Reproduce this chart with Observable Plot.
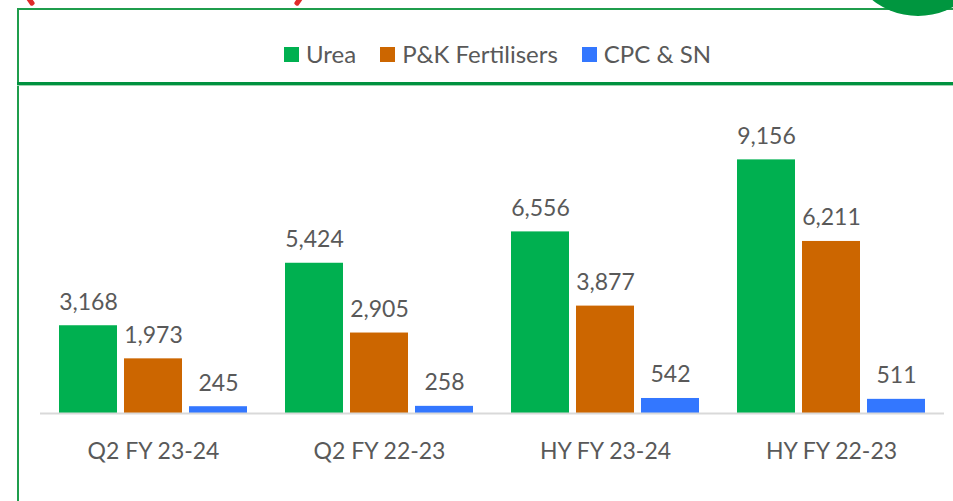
<!DOCTYPE html>
<html>
<head>
<meta charset="utf-8">
<script src="https://cdn.jsdelivr.net/npm/d3@7"></script>
<script src="https://cdn.jsdelivr.net/npm/@observablehq/plot@0.6"></script>
<style>
  html, body { margin: 0; padding: 0; background: #fff; }
  body { width: 953px; height: 501px; position: relative; overflow: hidden; font-family: Lato, "Open Sans", sans-serif; }
  .deco { position: absolute; }
  #legend { position: absolute; top: 39px; left: 0; width: 995px; display: flex; justify-content: center; gap: 24px; font-size: 24px; color: #595959; line-height: 30px; }
  #legend .item { display: flex; align-items: center; gap: 7px; }
  #legend .sw { width: 15px; height: 15px; display: inline-block; }
  #chart { position: absolute; left: 0; top: 0; }
</style>
</head>
<body>
<div class="deco" style="left:17px; top:8px; width:936px; height:2px; background:#1f9d4c;"></div>
<div class="deco" style="left:17px; top:8px; width:2px; height:493px; background:#1f9d4c;"></div>
<div class="deco" style="left:17px; top:82px; width:936px; height:3px; background:#00923f;"></div>
<div class="deco" style="left:17px; top:85px; width:936px; height:1px; background:#9fd4b0;"></div>
<div class="deco" style="left:845px; top:-130px; width:146px; height:146px; border-radius:50%; background:#00963f;"></div>
<div class="deco" style="left:28px; top:-4px; width:5px; height:10px; border-radius:2px; background:#e02a2a; transform:rotate(-35deg);"></div>
<div class="deco" style="left:296px; top:-4px; width:5px; height:10px; border-radius:2px; background:#e02a2a; transform:rotate(35deg);"></div>
<div id="legend"></div>
<div id="chart"></div>
<script>
const categories = ["Q2 FY 23-24", "Q2 FY 22-23", "HY FY 23-24", "HY FY 22-23"];
const series = ["Urea", "P&K Fertilisers", "CPC & SN"];
const urea = [3168, 5424, 6556, 9156];
const pk = [1973, 2905, 3877, 6211];
const cpc = [245, 258, 542, 511];
const colors = ["#00B050", "#CC6600", "#3377FF"];

const data = [];
categories.forEach((c, i) => {
  data.push({category: c, series: series[0], value: urea[i]});
  data.push({category: c, series: series[1], value: pk[i]});
  data.push({category: c, series: series[2], value: cpc[i]});
});

const legend = document.getElementById("legend");
series.forEach((s, i) => {
  const item = document.createElement("div");
  item.className = "item";
  const sw = document.createElement("span");
  sw.className = "sw";
  sw.style.background = colors[i];
  const t = document.createElement("span");
  t.textContent = s;
  item.appendChild(sw);
  item.appendChild(t);
  legend.appendChild(item);
});

const chart = Plot.plot({
  width: 953,
  height: 501,
  marginLeft: 40,
  marginRight: 9,
  marginTop: 136,
  marginBottom: 88,
  style: {fontFamily: "Lato, 'Open Sans', sans-serif", background: "transparent", overflow: "visible"},
  fx: {domain: categories, padding: 0, label: null, axis: "bottom", tickSize: 0, tickPadding: 29, fontSize: 23},
  x: {domain: series, paddingInner: 0.1077, paddingOuter: 0.292, axis: null},
  y: {domain: [0, 10000], axis: null},
  color: {domain: series, range: colors},
  marks: [
    Plot.barY(data, {fx: "category", x: "series", y: "value", fill: "series"}),
    Plot.text(data, {fx: "category", x: "series", y: "value", text: d => d3.format(",")(d.value), lineAnchor: "bottom", dy: -16, fontSize: 23, fill: "#595959"}),
    Plot.ruleY([0], {stroke: "#d9d9d9", strokeWidth: 2})
  ]
});
chart.querySelectorAll("g[aria-label='fx-axis tick label']").forEach(g => { g.setAttribute("fill", "#595959"); g.style.fontSize = "23px"; });
document.getElementById("chart").appendChild(chart);
</script>
</body>
</html>
